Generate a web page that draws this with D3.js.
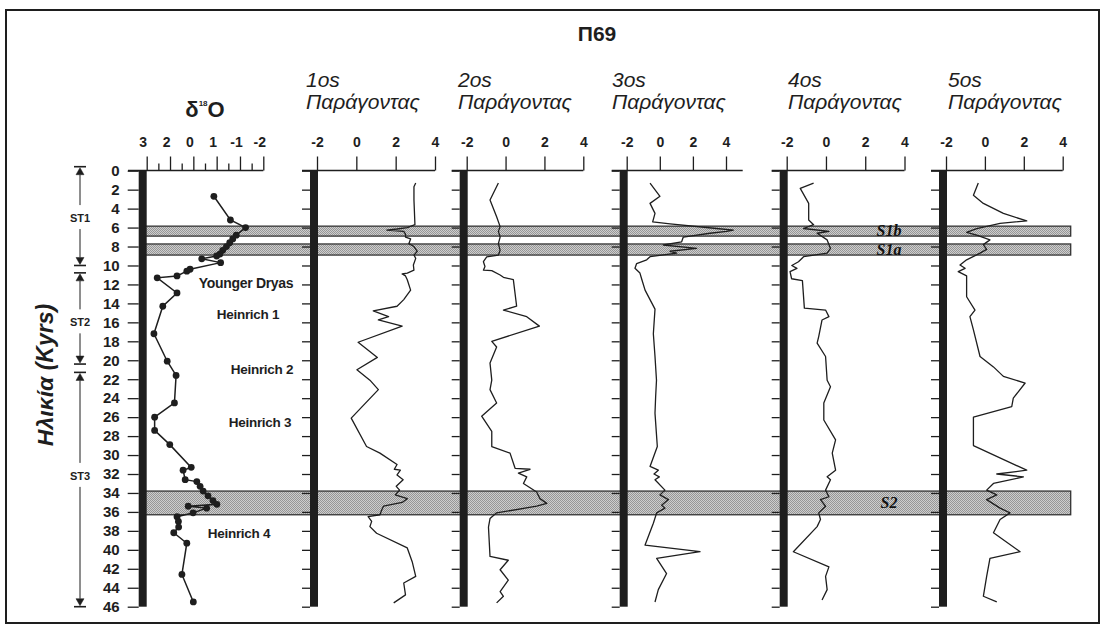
<!DOCTYPE html>
<html><head><meta charset="utf-8">
<script src="https://cdn.jsdelivr.net/npm/d3@7"></script>
<style>html,body{margin:0;padding:0;background:#fff}svg{display:block}</style>
</head><body>
<svg id="c" width="1107" height="626"></svg>
<script>
// ---------------- DATA ----------------
const chartTitle = "Π69";
const yTicks = d3.range(0, 47, 2);
const d18oTickValues = [3, 2, 1, 0, -1, -2];
const d18oTickLabels = ["3", "2", "0", "1", "-1", "-2"];
const d18oMinorTicks = [2.5, 1.5, 0.5, -0.5, -1.5];
const factorTicks = [-2, 0, 2, 4];
const factorTickLabels = ["-2", "0", "2", "4"];
const factorTitles = ["1os", "2os", "3os", "4os", "5os"];
const factorSubtitle = "Παράγοντας";
const yTitle = "Ηλικία (Kyrs)";

const d18oAge = [2.7,5.2,6.0,6.8,7.2,7.6,8.0,8.4,8.8,9.0,9.3,9.7,10.4,10.6,11.1,11.3,12.9,14.3,17.2,20.1,21.6,24.5,26.0,27.4,28.9,31.3,31.6,32.6,32.8,33.3,33.8,34.3,34.8,35.2,35.4,35.6,36.1,36.5,37.0,37.6,38.2,39.3,42.6,45.5];
const d18oVal = [0.12,-0.59,-1.24,-0.84,-0.69,-0.56,-0.42,-0.26,-0.14,0.0,0.64,-0.17,1.14,1.28,1.7,2.55,1.7,2.31,2.69,2.12,1.74,1.81,2.66,2.66,2.01,1.09,1.44,1.35,0.85,0.71,0.58,0.37,0.16,-0.01,1.22,0.43,1.01,1.7,1.64,1.63,1.84,1.28,1.49,1.0];

const f1Age = [1.3,1.7,3.1,5.7,6.0,6.15,6.26,6.4,6.7,7.0,7.2,7.7,8.0,8.5,8.9,9.25,9.95,10.5,10.8,10.9,11.1,11.5,12.6,13.6,14.3,14.8,15.4,15.75,16.4,18.1,19.7,21.0,22.1,23.1,26.1,29.1,29.8,31.0,31.5,31.6,32.1,32.6,33.3,33.7,34.2,34.6,35.0,35.4,35.8,36.3,36.5,37.0,37.55,38.25,39.8,41.25,42.8,43.5,44.75,45.6];
const f1Val = [3.02,2.93,2.93,2.98,2.59,2.07,1.55,2.41,2.5,2.5,2.76,2.67,2.93,3.1,2.93,3.02,2.9,2.93,2.59,2.33,2.5,2.59,2.76,2.41,2.07,0.86,1.64,1.12,2.33,0.09,1.07,0.03,0.69,1.12,-0.26,0.52,1.2,2.07,1.93,2.24,2.07,2.38,2.03,2.2,1.98,2.59,2.33,1.38,1.29,1.2,0.6,0.78,0.69,1.03,2.59,2.84,3.02,2.41,2.5,1.9];

const f2Age = [1.3,3.1,4.85,5.9,6.4,7.0,7.7,8.4,8.9,9.1,9.6,10.1,10.5,10.55,11.0,11.25,11.5,14.3,14.7,15.4,16.4,18.0,18.6,20.3,22.1,23.1,24.5,25.9,27.5,29.1,29.8,31.4,31.5,31.9,32.3,33.0,33.9,34.6,35.1,35.4,36.1,36.7,37.6,40.7,41.1,42.1,43.2,44.4,44.9,45.6];
const f2Val = [-0.37,-0.8,-0.46,-0.28,-0.37,-0.28,-0.37,-0.28,-0.37,-0.97,-1.14,-1.06,-1.14,-0.71,-0.28,-0.11,0.4,0.57,-0.11,1.09,1.74,-0.71,-0.46,-0.8,-0.71,-0.8,-0.46,-1.23,-0.71,-0.71,0.23,0.49,1.26,0.66,1.09,0.92,1.6,1.77,2.12,1.6,-0.46,-0.8,-0.88,-0.8,0.14,-0.28,0.14,-0.28,-0.11,-0.46];

const f3Age = [1.3,2.7,3.45,4.5,5.4,5.6,6.1,6.26,6.4,6.6,7.0,7.5,7.84,8.2,8.5,8.7,9.07,9.4,9.8,10.3,10.8,11.4,12.6,14.6,17.2,19.6,22.1,23.8,25.6,29.1,31.2,31.6,32.0,32.3,32.6,33.7,34.2,34.7,35.3,35.6,36.1,37.2,39.5,40.2,40.9,42.5,44.2,45.5];
const f3Val = [-0.59,0.01,-0.59,-0.29,-0.43,0.62,3.43,4.44,4.04,3.03,1.42,1.32,0.21,2.22,0.62,1.02,-0.59,-0.79,-1.4,-1.5,-1.2,-1.1,-0.89,-0.29,-0.39,-0.29,-0.2,-0.25,-0.29,-0.15,-0.59,-0.09,-0.35,-0.03,-0.29,0.31,0.01,0.52,0.11,0.31,-0.19,-0.39,-0.89,2.43,-0.19,0.41,-0.09,-0.29];

const f4Age = [1.3,1.86,3.45,5.2,5.7,6.1,6.4,6.6,7.3,8.2,8.7,9.07,9.6,10.0,10.3,10.65,11.4,11.6,14.5,14.7,15.4,15.75,17.5,18.2,19.6,22.1,22.8,24.5,26.3,28.4,29.8,31.6,32.3,32.6,33.7,34.4,34.7,35.4,36.1,36.8,37.55,40.2,41.8,42.8,44.2,45.3];
const f4Val = [-0.63,-1.31,-0.88,-0.88,-0.63,-1.14,0.15,-0.45,0.06,0.23,0.06,-1.14,-1.4,-1.74,-1.48,-1.83,-1.75,-1.2,-1.1,-0.02,0.15,-0.2,-0.37,-0.45,-0.02,0.06,0.23,-0.11,-0.11,0.49,0.32,0.49,0.06,0.23,-0.02,0.15,-0.28,-0.02,-0.37,-0.28,-0.45,-1.66,0.15,-0.02,0.06,-0.2];

const f5Age = [1.3,2.6,3.45,4.5,5.3,5.55,6.1,6.5,6.8,7.3,7.8,8.3,8.7,9.4,9.95,10.3,10.65,11.1,13.3,14.7,15.4,16.8,19.6,20.7,21.7,22.4,24.0,24.9,26.0,29.0,31.6,32.0,32.3,33.0,33.7,34.2,34.7,35.6,36.1,36.8,38.2,40.2,40.9,42.8,44.9,45.5];
const f5Val = [-0.34,-0.59,-0.08,0.95,2.15,0.78,-0.42,-0.94,-0.42,0.26,-0.08,0.09,-0.25,-0.94,-1.28,-1.02,-1.37,-0.94,-0.94,-0.51,-0.77,-0.59,-0.25,0.44,0.95,2.07,1.46,1.38,-0.59,-0.59,2.15,0.61,1.98,0.44,0.09,0.61,0.09,0.78,1.29,0.78,0.44,1.81,0.26,0.09,-0.08,0.61];

const bandNames = ["S1b", "S1a", "S2"];
const bandTop = [5.85, 7.73, 33.8];
const bandBottom = [6.9, 8.9, 36.3];

const eventNames = ["Younger Dryas", "Heinrich 1", "Heinrich 2", "Heinrich 3", "Heinrich 4"];
const eventAge = [11.9, 15.1, 20.9, 26.5, 38.2];

const stageNames = ["ST1", "ST2", "ST3"];
const stageStart = [0, 11.2, 21.7];
const stageEnd = [10, 20.4, 46];
const stageLabelAge = [5, 16, 32.2];

// ---------------- LAYOUT ----------------
const FONT = "'Liberation Sans', Arial, Helvetica, sans-serif";
const INK = "#1e1e1e";
const svg = d3.select("#c");
const y = d3.scaleLinear().domain([0, 46]).range([170.7, 606.7]);
const axisY = 170.5;
const barW = 8;

const d18oLayout = { x0: 146.7, x1: 263.3, lineStart: 128 };
const panelLayout = [
  { x0: 317,   x1: 435,    end: 435,    titleX: 306 },
  { x0: 466.7, x1: 583.3,  end: 583.3,  titleX: 458 },
  { x0: 626.7, x1: 726,    end: 742.7,  titleX: 612 },
  { x0: 786.7, x1: 904.5,  end: 904.5,  titleX: 788 },
  { x0: 946,   x1: 1062.7, end: 1062.7, titleX: 948 }
];
const factorData = [[f1Age, f1Val], [f2Age, f2Val], [f3Age, f3Val], [f4Age, f4Val], [f5Age, f5Val]];

// defs: stipple pattern
const defs = svg.append("defs");
const pat = defs.append("pattern").attr("id", "stip").attr("width", 2).attr("height", 2)
  .attr("patternUnits", "userSpaceOnUse");
pat.append("rect").attr("width", 2).attr("height", 2).attr("fill", "#cdcdcd");
pat.append("rect").attr("width", 1).attr("height", 1).attr("fill", "#969696");
pat.append("rect").attr("x", 1).attr("y", 1).attr("width", 1).attr("height", 1).attr("fill", "#969696");

// frame
svg.append("rect").attr("x", 6).attr("y", 10).attr("width", 1093).attr("height", 613)
  .attr("fill", "none").attr("stroke", INK).attr("stroke-width", 2);

// title
svg.append("text").attr("x", 597).attr("y", 41).attr("text-anchor", "middle")
  .attr("font-family", FONT).attr("font-weight", "bold").attr("font-size", 21).attr("fill", INK)
  .text(chartTitle);

// bands
const bandG = svg.append("g");
bandNames.forEach((n, i) => {
  bandG.append("rect").attr("x", 140).attr("width", 1070.7 - 140)
    .attr("y", y(bandTop[i])).attr("height", y(bandBottom[i]) - y(bandTop[i]))
    .attr("fill", "url(#stip)").attr("stroke", "#333").attr("stroke-width", 1.3);
  bandG.append("text").attr("x", 889).attr("y", (y(bandTop[i]) + y(bandBottom[i])) / 2 + 5)
    .attr("text-anchor", "middle").attr("font-family", "'Liberation Serif', 'Times New Roman', serif")
    .attr("font-style", "italic").attr("font-weight", "bold").attr("font-size", 16).attr("fill", "#111")
    .text(n);
});

function styleAxis(g, fontSize) {
  g.selectAll("line").attr("stroke", INK).attr("stroke-width", 1.3);
  g.selectAll("path.domain").attr("stroke", INK).attr("stroke-width", 1.3);
  g.selectAll("text").attr("font-family", FONT).attr("font-weight", "bold")
    .attr("font-size", fontSize).attr("fill", INK);
}

// ---- δ18O panel ----
const xd = d3.scaleLinear().domain([3, -2]).range([d18oLayout.x0, d18oLayout.x1]);
svg.append("line").attr("x1", d18oLayout.lineStart).attr("x2", d18oLayout.x1)
  .attr("y1", axisY).attr("y2", axisY).attr("stroke", INK).attr("stroke-width", 1.3);
const dMaj = svg.append("g").attr("transform", `translate(0,${axisY})`)
  .call(d3.axisTop(xd).tickValues(d18oTickValues).tickSize(14).tickSizeOuter(0).tickPadding(10)
    .tickFormat((d, i) => d18oTickLabels[i]));
dMaj.select("path.domain").remove();
dMaj.selectAll("text").attr("dx", -4);
styleAxis(dMaj, 14);
const dMin = svg.append("g").attr("transform", `translate(0,${axisY})`)
  .call(d3.axisTop(xd).tickValues(d18oMinorTicks).tickSize(7).tickFormat(""));
dMin.select("path.domain").remove();
styleAxis(dMin, 14);

// left age axis
const yAx = svg.append("g").attr("transform", `translate(${d18oLayout.x0 - barW},0)`)
  .call(d3.axisLeft(y).tickValues(yTicks).tickSize(11).tickPadding(8).tickSizeOuter(0));
yAx.select("path.domain").remove();
styleAxis(yAx, 15);

svg.append("rect").attr("x", d18oLayout.x0 - barW).attr("y", y(0)).attr("width", barW)
  .attr("height", y(46) - y(0)).attr("fill", INK);

svg.append("text").attr("x", 205).attr("y", 117).attr("text-anchor", "middle")
  .attr("font-family", FONT).attr("font-weight", "bold").attr("font-size", 22).attr("fill", INK)
  .call(t => {
    t.append("tspan").text("δ");
    t.append("tspan").attr("font-size", 8).attr("dy", -11).text("18");
    t.append("tspan").attr("dy", 11).text("O");
  });

// ---- factor panels ----
panelLayout.forEach((p, i) => {
  const x = d3.scaleLinear().domain([-2, 4]).range([p.x0, p.x1]);
  svg.append("line").attr("x1", p.x0 - barW - 7).attr("x2", p.end)
    .attr("y1", axisY).attr("y2", axisY).attr("stroke", INK).attr("stroke-width", 1.3);
  const tg = svg.append("g").attr("transform", `translate(0,${axisY})`)
    .call(d3.axisTop(x).tickValues(factorTicks).tickSize(14).tickSizeOuter(0).tickPadding(10)
      .tickFormat((d, k) => factorTickLabels[k]));
  tg.select("path.domain").remove();
  styleAxis(tg, 14);
  const lg = svg.append("g").attr("transform", `translate(${p.x0 - barW + 1},0)`)
    .call(d3.axisLeft(y).tickValues(yTicks).tickSize(8).tickSizeOuter(0).tickFormat(""));
  lg.select("path.domain").remove();
  styleAxis(lg, 14);
  svg.append("rect").attr("x", p.x0 - barW + 1).attr("y", y(0)).attr("width", barW)
    .attr("height", y(46) - y(0)).attr("fill", INK);

  svg.append("text").attr("x", p.titleX).attr("y", 87).attr("font-family", FONT)
    .attr("font-style", "italic").attr("font-size", 21).attr("fill", INK).text(factorTitles[i]);
  svg.append("text").attr("x", p.titleX).attr("y", 109).attr("font-family", FONT)
    .attr("font-style", "italic").attr("font-size", 21).attr("fill", INK).text(factorSubtitle);

  const [ages, vals] = factorData[i];
  const pts = ages.map((a, k) => [a, vals[k]]);
  svg.append("path").datum(pts)
    .attr("d", d3.line().x(d => x(d[1])).y(d => y(d[0])))
    .attr("fill", "none").attr("stroke", INK).attr("stroke-width", 1.3).attr("stroke-linejoin", "round");
});

// δ18O curve with markers
const dPts = d18oAge.map((a, k) => [a, d18oVal[k]]);
svg.append("path").datum(dPts)
  .attr("d", d3.line().x(d => xd(d[1])).y(d => y(d[0])))
  .attr("fill", "none").attr("stroke", INK).attr("stroke-width", 1.5);
svg.append("g").selectAll("circle").data(dPts).join("circle")
  .attr("cx", d => xd(d[1])).attr("cy", d => y(d[0])).attr("r", 3.4).attr("fill", INK);

// events
const eventX = [246, 248, 262, 260, 239];
eventNames.forEach((n, i) => {
  svg.append("text").attr("x", eventX[i]).attr("y", y(eventAge[i]) + 5).attr("text-anchor", "middle")
    .attr("font-family", FONT).attr("font-weight", "bold").attr("font-size", i === 0 ? 14 : 13.5)
    .attr("letter-spacing", -0.3).attr("fill", INK).text(n);
});

// stages
const sx = 80;
stageNames.forEach((n, i) => {
  const ys = y(stageStart[i]) - 4, ye = y(stageEnd[i]), yl = y(stageLabelAge[i]);
  const g = svg.append("g").attr("stroke", INK).attr("fill", INK);
  g.append("line").attr("x1", sx - 6).attr("x2", sx + 6).attr("y1", ys).attr("y2", ys).attr("stroke-width", 1.6);
  g.append("path").attr("d", `M${sx},${ys + 1} L${sx - 4},${ys + 8} L${sx + 4},${ys + 8} Z`).attr("stroke-width", 0.5);
  g.append("line").attr("x1", sx - 6).attr("x2", sx + 6).attr("y1", ye).attr("y2", ye).attr("stroke-width", 1.6);
  g.append("path").attr("d", `M${sx},${ye - 1} L${sx - 4},${ye - 8} L${sx + 4},${ye - 8} Z`).attr("stroke-width", 0.5);
  g.append("line").attr("x1", sx).attr("x2", sx).attr("y1", ys + 8).attr("y2", yl - 13).attr("stroke-width", 1);
  g.append("line").attr("x1", sx).attr("x2", sx).attr("y1", yl + 11).attr("y2", ye - 8).attr("stroke-width", 1);
  svg.append("text").attr("x", sx).attr("y", yl + 4).attr("text-anchor", "middle")
    .attr("font-family", FONT).attr("font-weight", "bold").attr("font-size", 11).attr("fill", INK).text(n);
});

// y title
svg.append("text").attr("transform", "translate(53,375) rotate(-90)").attr("text-anchor", "middle")
  .attr("font-family", FONT).attr("font-weight", "bold").attr("font-style", "italic")
  .attr("font-size", 23).attr("fill", INK).text(yTitle);
</script>
</body></html>
